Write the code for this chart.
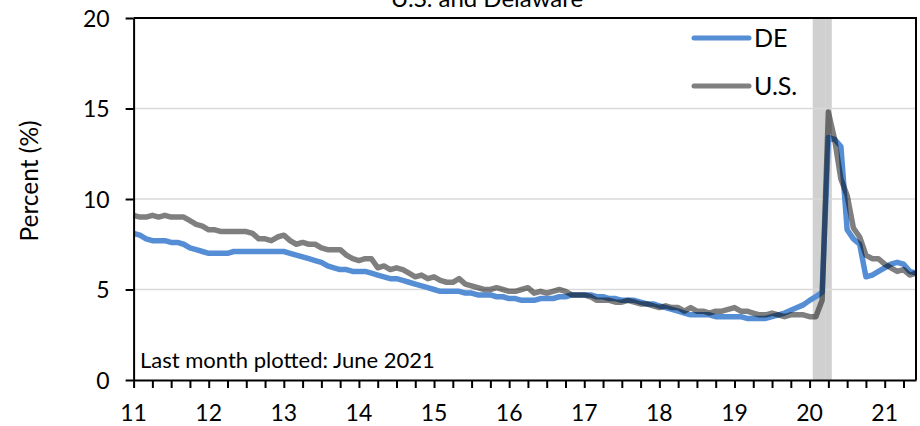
<!DOCTYPE html>
<html lang="en">
  <head>
    <meta charset="UTF-8" />
    <title>Unemployment Rate: U.S. and Delaware</title>
    <script src="https://d3js.org/d3.v7.min.js"></script>
    <style>
      body {
        margin: 0;
        background: #fff;
        font-family: Lato, 'Open Sans', sans-serif;
      }
      .grid line {
        stroke: #d9d9d9;
        stroke-width: 1.5px;
      }
      .axis path,
      .axis line {
        stroke: #000;
        stroke-width: 2px;
      }
      .axis text {
        font-family: Lato, sans-serif;
        font-size: 23px;
        fill: #000;
      }
      .series {
        fill: none;
        stroke-width: 5.5px;
        stroke-linejoin: round;
      }
    </style>
  </head>
  <body>
    <div id="chart"></div>

    <script>
      // monthly rates, Jan 2011 .. Jun 2021
      const startMonth = '2011-01';
      const deRate = [
        8.1, 8.0, 7.8, 7.7, 7.7, 7.7, 7.6, 7.6, 7.5, 7.3, 7.2, 7.1,
        7.0, 7.0, 7.0, 7.0, 7.1, 7.1, 7.1, 7.1, 7.1, 7.1, 7.1, 7.1,
        7.1, 7.0, 6.9, 6.8, 6.7, 6.6, 6.5, 6.3, 6.2, 6.1, 6.1, 6.0,
        6.0, 6.0, 5.9, 5.8, 5.7, 5.6, 5.6, 5.5, 5.4, 5.3, 5.2, 5.1,
        5.0, 4.9, 4.9, 4.9, 4.9, 4.8, 4.8, 4.7, 4.7, 4.7, 4.6, 4.6,
        4.5, 4.5, 4.4, 4.4, 4.4, 4.5, 4.5, 4.5, 4.6, 4.6, 4.7, 4.7,
        4.7, 4.7, 4.6, 4.6, 4.5, 4.5, 4.4, 4.4, 4.4, 4.3, 4.2, 4.2,
        4.1, 4.0, 3.9, 3.8, 3.7, 3.6, 3.6, 3.6, 3.6, 3.5, 3.5, 3.5,
        3.5, 3.5, 3.4, 3.4, 3.4, 3.4, 3.5, 3.6, 3.7, 3.85, 4.0, 4.15,
        4.4, 4.6, 4.85, 13.4, 13.3, 12.9, 8.3, 7.8, 7.5, 5.7, 5.8, 6.0,
        6.2, 6.4, 6.5, 6.4, 6.0, 5.9,
      ];
      const usRate = [
        9.1, 9.0, 9.0, 9.1, 9.0, 9.1, 9.0, 9.0, 9.0, 8.8, 8.6, 8.5,
        8.3, 8.3, 8.2, 8.2, 8.2, 8.2, 8.2, 8.1, 7.8, 7.8, 7.7, 7.9,
        8.0, 7.7, 7.5, 7.6, 7.5, 7.5, 7.3, 7.2, 7.2, 7.2, 6.9, 6.7,
        6.6, 6.7, 6.7, 6.2, 6.3, 6.1, 6.2, 6.1, 5.9, 5.7, 5.8, 5.6,
        5.7, 5.5, 5.4, 5.4, 5.6, 5.3, 5.2, 5.1, 5.0, 5.0, 5.1, 5.0,
        4.9, 4.9, 5.0, 5.1, 4.8, 4.9, 4.8, 4.9, 5.0, 4.9, 4.7, 4.7,
        4.7, 4.6, 4.4, 4.4, 4.4, 4.3, 4.3, 4.4, 4.3, 4.2, 4.2, 4.1,
        4.0, 4.1, 4.0, 4.0, 3.8, 4.0, 3.8, 3.8, 3.7, 3.8, 3.8, 3.9,
        4.0, 3.8, 3.8, 3.7, 3.6, 3.6, 3.7, 3.6, 3.5, 3.6, 3.6, 3.6,
        3.5, 3.5, 4.4, 14.8, 13.3, 11.1, 10.2, 8.4, 7.9, 6.9, 6.7, 6.7,
        6.4, 6.2, 6.0, 6.1, 5.8, 5.9,
      ];
      const recessionMonths = ['2020-02', '2020-03', '2020-04'];
      const yearLabels = ['11', '12', '13', '14', '15', '16', '17', '18', '19', '20', '21'];
      const yTicks = [0, 5, 10, 15, 20];
      const seriesNames = ['DE', 'U.S.'];

      const W = 920,
        H = 426;
      const plot = { left: 133.6, right: 916, top: 18, bottom: 380 };

      const parseMonth = d3.timeParse('%Y-%m');
      const start = parseMonth(startMonth);
      const monthIndex = (s) => d3.timeMonth.count(start, parseMonth(s));

      const svg = d3
        .select('#chart')
        .append('svg')
        .attr('width', W)
        .attr('height', H);

      const x = d3
        .scaleLinear()
        .domain([0, deRate.length - 1])
        .range([plot.left, plot.right]);
      const y = d3
        .scaleLinear()
        .domain([0, 20])
        .range([plot.bottom, plot.top]);

      // recession shading (one full-width bar per month)
      const step = x(1) - x(0);
      svg
        .append('g')
        .selectAll('rect')
        .data(recessionMonths)
        .join('rect')
        .attr('x', (d) => x(monthIndex(d)) - step / 2)
        .attr('width', step + 0.3)
        .attr('y', y(20))
        .attr('height', y(0) - y(20))
        .attr('fill', '#d0d0d0');

      // gridlines
      svg
        .append('g')
        .attr('class', 'grid')
        .selectAll('line')
        .data(yTicks.filter((v) => v > 0 && v < 20))
        .join('line')
        .attr('x1', plot.left)
        .attr('x2', plot.right)
        .attr('y1', (d) => y(d))
        .attr('y2', (d) => y(d));

      // lines
      const line = d3
        .line()
        .x((d, i) => x(i))
        .y((d) => y(d));

      svg
        .append('path')
        .datum(deRate)
        .attr('class', 'series')
        .attr('stroke', '#558ed5')
        .attr('d', line);

      svg
        .append('path')
        .datum(usRate)
        .attr('class', 'series')
        .attr('stroke', '#000')
        .attr('stroke-opacity', 0.5)
        .attr('d', line);

      // plot border (top/right)
      svg
        .append('path')
        .attr(
          'd',
          `M${plot.left},${y(20)}H${plot.right}V${y(0)}`,
        )
        .attr('fill', 'none')
        .attr('stroke', '#000')
        .attr('stroke-width', 2);

      // axes
      const quarterTicks = d3.range(0, deRate.length, 3);
      const xAxis = d3
        .axisBottom(x)
        .tickValues(quarterTicks)
        .tickSize(8)
        .tickSizeOuter(0)
        .tickFormat('');
      svg
        .append('g')
        .attr('class', 'axis')
        .attr('transform', `translate(0,${plot.bottom})`)
        .call(xAxis);

      svg
        .append('g')
        .attr('class', 'axis')
        .selectAll('text')
        .data(yearLabels)
        .join('text')
        .attr('x', (d, i) => x(i * 12))
        .attr('y', 421)
        .attr('text-anchor', 'middle')
        .text((d) => d);

      svg
        .append('g')
        .attr('class', 'axis')
        .attr('transform', `translate(${plot.left},0)`)
        .call(
          d3
            .axisLeft(y)
            .tickValues(yTicks)
            .tickSize(8)
            .tickSizeOuter(0)
            .tickPadding(16),
        )
        .selectAll('text')
        .attr('dy', '0.35em');

      // y-axis title
      svg
        .append('text')
        .attr('transform', 'translate(38,181) rotate(-90)')
        .attr('text-anchor', 'middle')
        .style('font-size', '24.5px')
        .text('Percent (%)');

      // chart title (cut off at the top, as in the source)
      svg
        .append('text')
        .attr('x', 487)
        .attr('y', 6.5)
        .attr('text-anchor', 'middle')
        .style('font-size', '24px')
        .text('U.S. and Delaware');

      svg
        .append('text')
        .attr('x', 140)
        .attr('y', 367.5)
        .style('font-size', '22px')
        .text('Last month plotted: June 2021');

      // legend
      const legendColors = ['#558ed5', '#808080'];
      const legend = svg
        .append('g')
        .selectAll('g')
        .data(seriesNames)
        .join('g')
        .attr('transform', (d, i) => `translate(694,${38 + i * 48})`);
      legend
        .append('line')
        .attr('x1', 0)
        .attr('x2', 55)
        .attr('stroke', (d, i) => legendColors[i])
        .attr('stroke-width', 5)
        .attr('stroke-linecap', 'round');
      legend
        .append('text')
        .attr('x', 60)
        .attr('dy', '0.36em')
        .style('font-size', '25px')
        .text((d) => d);
    </script>
  </body>
</html>
